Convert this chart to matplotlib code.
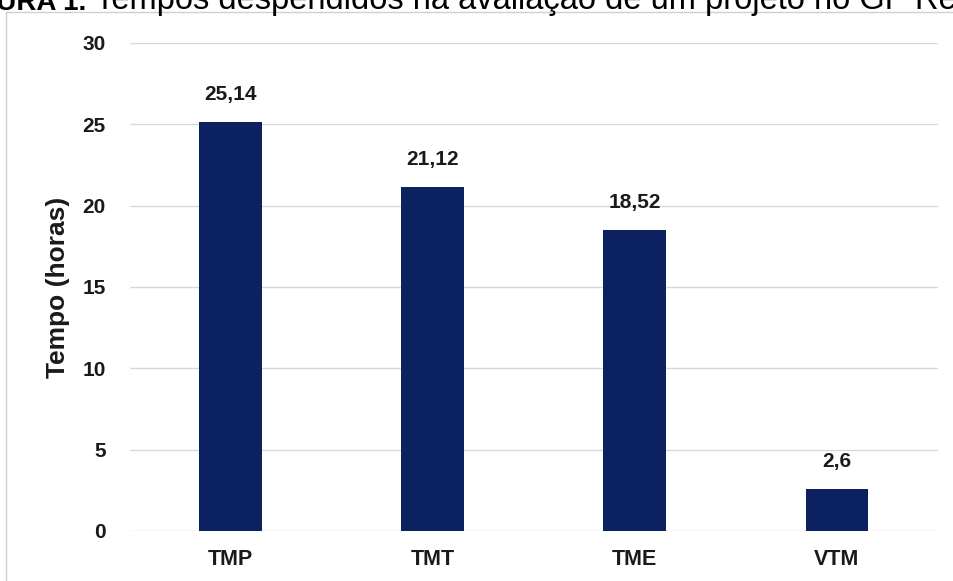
import matplotlib
matplotlib.use("Agg")
import matplotlib.pyplot as plt
from matplotlib.patches import Rectangle

# Data
categories = ["TMP", "TMT", "TME", "VTM"]
values = [25.14, 21.12, 18.52, 2.6]
value_labels = ["25,14", "21,12", "18,52", "2,6"]
yticks = [0, 5, 10, 15, 20, 25, 30]

W, H = 954, 581
fig = plt.figure(figsize=(W / 100, H / 100), dpi=100)
plt.rcParams["font.family"] = ["Liberation Sans", "DejaVu Sans"]

# Chart frame (extends past the right and bottom edges)
fig.patches.append(Rectangle((6 / W, -0.1), 1.2, (H - 12) / H + 0.1,
                             transform=fig.transFigure, fill=False,
                             edgecolor="#d0d0d0", linewidth=1.0))

# Caption line, partly cut at the top edge
fig.text(86 / W, 1 - 9.5 / H, "FIGURA 1.", ha="right", va="baseline",
         fontsize=20, fontweight="bold", color="black")
fig.text(95 / W, 1 - 9.5 / H,
         "Tempos despendidos na avaliação de um projeto no GP Re",
         ha="left", va="baseline", fontsize=23.5, color="black")

ax = fig.add_axes([129.5 / W, 1 - 531 / H, (938 - 129.5) / W, (531 - 43) / H])
x = range(len(categories))
ax.bar(x, values, width=0.31, color="#0c2160", zorder=3)
for xi, v, lab in zip(x, values, value_labels):
    ax.annotate(lab, (xi, v), xytext=(0, 13), textcoords="offset points",
                ha="center", va="bottom", fontsize=15, fontweight="bold",
                color="#1a1a1a")

ax.set_xlim(-0.5, len(categories) - 0.5)
ax.set_ylim(0, 30)
ax.set_yticks(yticks)
ax.set_yticklabels([str(t) for t in yticks], fontsize=15, fontweight="bold",
                   color="#1a1a1a")
ax.set_xticks(list(x))
ax.set_xticklabels(categories, fontsize=15.5, fontweight="bold", color="#1a1a1a")
ax.tick_params(axis="both", length=0)
ax.tick_params(axis="y", pad=17)
ax.tick_params(axis="x", pad=13)
ax.grid(axis="y", color="#d9d9d9", linewidth=1.0, zorder=0)
for s in ax.spines.values():
    s.set_visible(False)
ax.set_ylabel("Tempo (horas)", fontsize=19, fontweight="bold",
              color="#1a1a1a", labelpad=9)

fig.savefig("out.png", dpi=100, facecolor="white")
